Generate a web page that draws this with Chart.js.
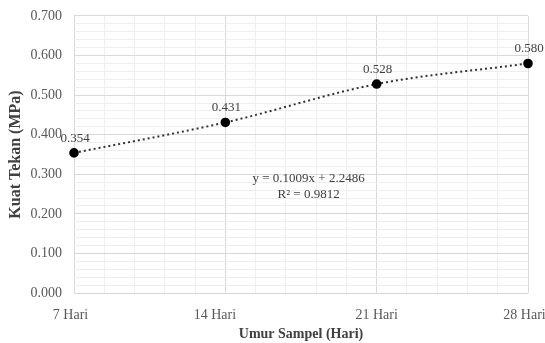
<!DOCTYPE html>
<html><head><meta charset="utf-8">
<script src="https://cdn.jsdelivr.net/npm/chart.js@4/dist/chart.umd.min.js"></script>
<style>html,body{margin:0;padding:0;background:#fff}#wrap{width:545px;height:343px}</style>
</head><body><div id="wrap"><canvas id="c" width="545" height="343"></canvas></div>
<script>
const categories = ["7 Hari", "14 Hari", "21 Hari", "28 Hari"];
const strengths = [0.354, 0.431, 0.528, 0.580];
const yTicks = [0.0, 0.1, 0.2, 0.3, 0.4, 0.5, 0.6, 0.7];
const equationLines = ["y = 0.1009x + 2.2486", "R\u00b2 = 0.9812"];
const xTitle = "Umur Sampel (Hari)";
const yTitle = "Kuat Tekan (MPa)";

const SERIF = "'Liberation Serif', 'Times New Roman', serif";
const isInt = v => Math.abs(v - Math.round(v)) < 1e-6;
const isMajorY = v => yTicks.some(t => Math.abs(t - v) < 1e-6);
// trailing spaces nudge centred labels leftwards like the original (keeps last label inside the canvas)
const labelNudge = [2, 6, 0, 2];

const labelPlugin = {
  id: 'labels',
  afterDatasetsDraw(chart) {
    const ctx = chart.ctx;
    const meta = chart.getDatasetMeta(0);
    ctx.save();
    ctx.font = "13px " + SERIF;
    ctx.fillStyle = '#404040';
    ctx.textAlign = 'center';
    ctx.textBaseline = 'bottom';
    meta.data.forEach((pt, i) => {
      ctx.fillText(strengths[i].toFixed(3), pt.x + 1, pt.y - 8);
    });
    const xs = chart.scales.x, ys = chart.scales.y;
    const ex = xs.getPixelForValue(1.55), ey = ys.getPixelForValue(0.29);
    ctx.textBaseline = 'middle';
    ctx.fillText(equationLines[0], ex, ey);
    ctx.fillText(equationLines[1], ex, ey + 16);
    ctx.restore();
  }
};

new Chart(document.getElementById('c'), {
  type: 'line',
  data: {
    datasets: [{
      data: strengths.map((v, i) => ({x: i, y: v})),
      borderColor: '#333333',
      borderWidth: 2,
      borderDash: [2, 3],
      cubicInterpolationMode: 'monotone',
      pointRadius: 3.8,
      pointBackgroundColor: '#000',
      pointBorderColor: '#000',
      clip: false
    }]
  },
  options: {
    responsive: false,
    animation: false,
    layout: {padding: {left: 0, right: 17, top: 16, bottom: 0}},
    plugins: {legend: {display: false}, tooltip: {enabled: false}},
    scales: {
      x: {
        type: 'linear', min: 0, max: 3,
        afterBuildTicks: s => { const t = []; for (let k = 0; k <= 15; k++) t.push({value: k / 5}); s.ticks = t; },
        ticks: {
          autoSkip: false, maxRotation: 0, padding: 14,
          color: '#595959', font: {family: SERIF, size: 14},
          callback: v => {
            if (!isInt(v)) return '';
            const i = Math.round(v);
            return categories[i] + ' '.repeat(labelNudge[i]);
          }
        },
        grid: {
          drawTicks: false,
          color: c => isInt(c.tick.value) ? '#d9d9d9' : '#eeeeee',
          lineWidth: 1
        },
        border: {display: false},
        title: {display: true, text: xTitle, color: '#404040', font: {family: SERIF, size: 14, weight: 'bold'}, padding: {top: 4, bottom: 0}},
        afterFit: s => { s.height = 50; s.paddingRight = 0; s.paddingLeft = 0; }
      },
      y: {
        type: 'linear', min: 0, max: 0.7,
        afterBuildTicks: s => { const t = []; for (let k = 0; k <= 35; k++) t.push({value: k * 0.02}); s.ticks = t; },
        ticks: {
          autoSkip: false, padding: 12,
          color: '#595959', font: {family: SERIF, size: 14},
          callback: v => isMajorY(v) ? v.toFixed(3) : ''
        },
        grid: {
          drawTicks: false,
          color: c => isMajorY(c.tick.value) ? '#d9d9d9' : '#eeeeee',
          lineWidth: 1
        },
        border: {display: false},
        title: {display: true, text: yTitle, color: '#404040', font: {family: SERIF, size: 16, weight: 'bold'}, padding: {top: 6, bottom: 0}},
        afterFit: s => { s.width = 74; s.paddingTop = 0; s.paddingBottom = 0; }
      }
    }
  },
  plugins: [labelPlugin]
});
</script>
</body></html>
